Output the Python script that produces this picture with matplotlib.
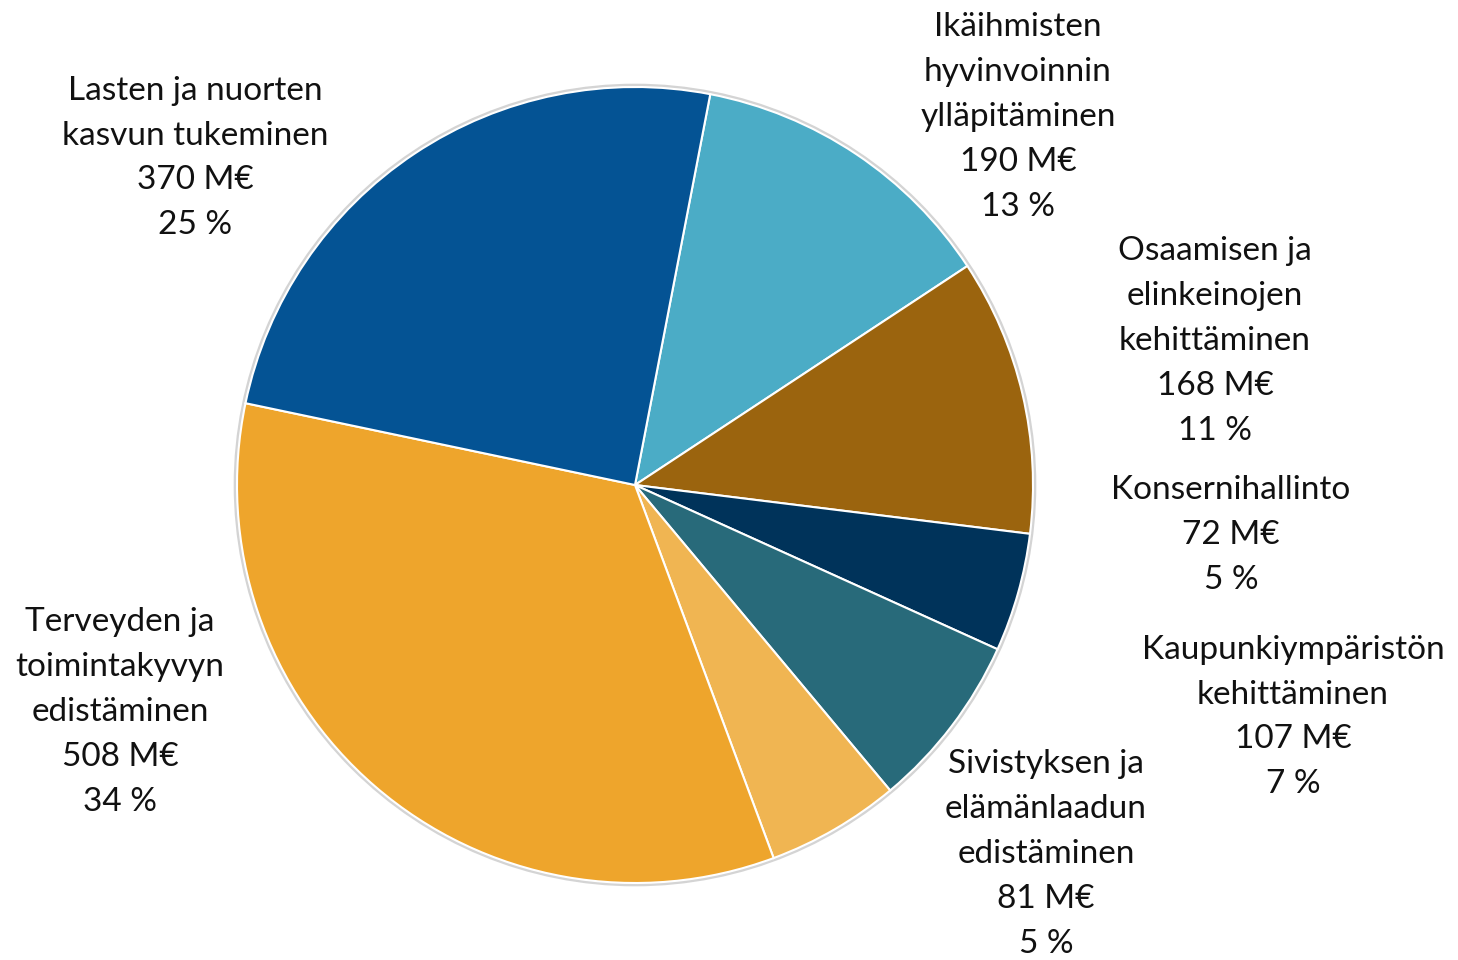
import matplotlib
matplotlib.use("Agg")
import matplotlib.pyplot as plt
from matplotlib.patches import Circle

categories = [
    "Ikäihmisten\nhyvinvoinnin\nylläpitäminen",
    "Osaamisen ja\nelinkeinojen\nkehittäminen",
    "Konsernihallinto",
    "Kaupunkiympäristön\nkehittäminen",
    "Sivistyksen ja\nelämänlaadun\nedistäminen",
    "Terveyden ja\ntoimintakyvyn\nedistäminen",
    "Lasten ja nuorten\nkasvun tukeminen",
]
values = [190, 168, 72, 107, 81, 508, 370]
colors = ["#4BACC6", "#9B640E", "#00335A", "#286A7A", "#F0B552", "#EEA52C", "#045394"]

W, H = 1458, 960
CX, CY, R = 635, 485, 398
label_px = [(1018, 117), (1215, 341), (1231, 535), (1293, 717), (1046, 854), (120, 712), (195, 158)]

plt.rcParams['font.family'] = ['Lato', 'DejaVu Sans']
fig = plt.figure(figsize=(W / 100, H / 100), dpi=100)
ax = fig.add_axes([0, 0, 1, 1])

total = sum(values)
start = 90 - 10.9
ax.add_patch(Circle((0, 0), 1.004, facecolor='none', edgecolor='#d4d4d4', lw=2.5, zorder=0))
ax.pie(values, colors=colors, startangle=start, counterclock=False, radius=1,
       wedgeprops=dict(edgecolor='white', linewidth=1.5), frame=True)
ax.set_xlim(-CX / R, (W - CX) / R)
ax.set_ylim(-(H - CY) / R, CY / R)
ax.set_aspect('equal')
ax.axis('off')

for cat, v, (px, py) in zip(categories, values, label_px):
    pct = round(v / total * 100)
    txt = f"{cat}\n{v} M€\n{pct} %"
    ax.text((px - CX) / R, (CY - py) / R, txt, ha='center', va='center',
            multialignment='center', fontsize=24, fontweight='normal',
            color='#111111', linespacing=1.62)

fig.savefig("out.png", dpi=100)
